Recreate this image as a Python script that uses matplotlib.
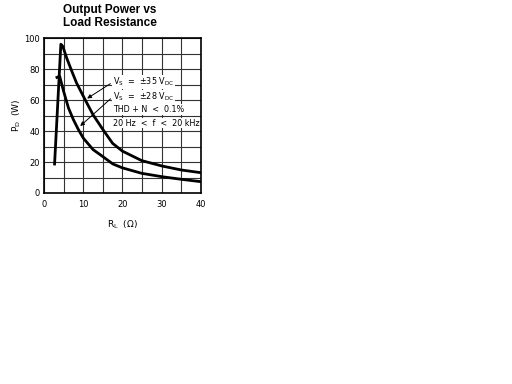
import matplotlib
matplotlib.use('Agg')
import matplotlib.pyplot as plt
from matplotlib.ticker import MultipleLocator

# load resistance (ohm) vs output power (W)
r_35 = [2.7, 4.3, 4.8, 5.8, 7.1, 8.3, 10.4, 12.5, 15.0, 17.5, 20.0, 24.9, 30.1, 35.1, 40.0]
p_35 = [18.7, 96.0, 94.6, 87.0, 78.5, 71.0, 60.6, 50.5, 41.0, 32.0, 27.0, 20.9, 17.4, 14.8, 13.1]

r_28 = [3.3, 4.0, 5.0, 6.25, 7.5, 8.75, 10.0, 12.5, 15.0, 17.5, 20.0, 24.9, 30.1, 35.1, 40.0]
p_28 = [74.6, 75.3, 65.6, 54.8, 47.3, 41.0, 35.5, 28.0, 23.5, 18.8, 16.2, 12.7, 10.5, 8.8, 7.3]

x_ticks = [0, 10, 20, 30, 40]
y_ticks = [0, 20, 40, 60, 80, 100]

plt.rcParams['font.family'] = ['DejaVu Sans']

fig = plt.figure(figsize=(5.12, 3.84), dpi=100)
ax = fig.add_axes([0.0859, 0.4974, 0.3066, 0.4036])

ax.plot(r_35, p_35, color='black', lw=2, solid_joinstyle='round')
ax.plot(r_28, p_28, color='black', lw=2, solid_joinstyle='round')

ax.set_xlim(0, 40)
ax.set_ylim(0, 100)
ax.set_xticks(x_ticks)
ax.set_yticks(y_ticks)
ax.xaxis.set_minor_locator(MultipleLocator(5))
ax.yaxis.set_minor_locator(MultipleLocator(10))
ax.grid(which='both', color='#333333', lw=0.8)
ax.set_axisbelow(True)
ax.tick_params(which='both', length=0, labelsize=6, pad=3)
ax.tick_params(axis='x', pad=5)
for s in ax.spines.values():
    s.set_linewidth(1.2)

ax.set_xlabel('R$_\\mathregular{L}$  (\u03a9)', fontsize=6.5, labelpad=7)
ax.set_ylabel('P$_\\mathregular{D}$  (W)', fontsize=6.5, labelpad=1)

fig.text(0.215, 0.957, 'Output Power vs\nLoad Resistance', ha='center', va='center',
         fontsize=8.5, fontweight='bold', family='Liberation Sans', linespacing=1.1)

box = dict(facecolor='white', edgecolor='none', pad=0.5)
fs = 5.8
ax.text(17.6, 71.5, 'V$_\\mathregular{S}$  =  \u00b135 V$_\\mathregular{DC}$', fontsize=fs,
        va='center', bbox=box)
ax.text(17.6, 62, 'V$_\\mathregular{S}$  =  \u00b128 V$_\\mathregular{DC}$', fontsize=fs,
        va='center', bbox=box)
ax.text(17.6, 54, 'THD + N  <  0.1%', fontsize=fs, va='center', bbox=box)
ax.text(17.6, 45, '20 Hz  <  f  <  20 kHz', fontsize=fs, va='center', bbox=box)

arr = dict(arrowstyle='-|>', color='black', lw=0.7, mutation_scale=6)
ax.annotate('', xy=(10.4, 60), xytext=(17.5, 71.5), arrowprops=arr)
ax.annotate('', xy=(8.7, 42), xytext=(17.5, 62), arrowprops=arr)

fig.savefig('out.png', dpi=100)
